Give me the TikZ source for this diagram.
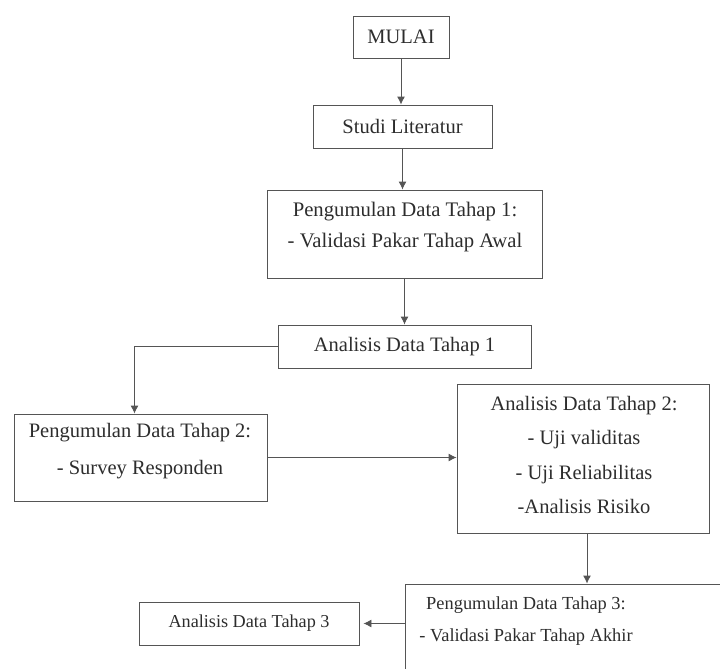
\documentclass[tikz,border=0pt]{standalone}
\usepackage{fontspec}
\setmainfont{Liberation Serif}
\usetikzlibrary{arrows.meta}
\definecolor{linegray}{RGB}{85,85,85}
\definecolor{textgray}{RGB}{45,45,45}
\tikzstyle{box}=[rectangle, draw=linegray, line width=0.9pt, inner sep=0pt, text=textgray, font=\fontsize{20.5}{24}\selectfont]
\tikzstyle{lines}=[text=textgray, align=center, inner sep=0pt]
\tikzstyle{flow}=[-{Latex[length=8pt,width=8pt]}, draw=linegray, line width=0.9pt]

\begin{document}
\begin{tikzpicture}[x=1pt,y=-1pt]
  \clip (0,0) rectangle (720,669);
  \draw (401,37) node[box,minimum width=96pt,minimum height=42pt] (mulai) {MULAI};
  \draw (402.5,126.5) node[box,minimum width=179pt,minimum height=43pt] (studi) {Studi Literatur};

  \draw (404.5,234) node[box,minimum width=275pt,minimum height=88pt] (p1) {};
  \draw (405,227.5) node[lines,font=\fontsize{20.7}{31}\selectfont] (p1text) {Pengumulan Data Tahap 1:\\- Validasi Pakar Tahap Awal};

  \draw (404.5,346.5) node[box,minimum width=253pt,minimum height=43pt] (a1) {Analisis Data Tahap 1};

  \draw (140.5,457.5) node[box,minimum width=253pt,minimum height=87pt] (p2) {};
  \draw (140,451.5) node[lines,font=\fontsize{20.5}{37}\selectfont] (p2text) {Pengumulan Data Tahap 2:\\- Survey Responden};

  \draw (583,458.5) node[box,minimum width=252pt,minimum height=149pt] (a2) {};
  \draw (584,455) node[lines,font=\fontsize{20.5}{34.5}\selectfont] (a2text) {Analisis Data Tahap 2:\\- Uji validitas\\- Uji Reliabilitas\\-Analisis Risiko};

  \draw (572.5,637) node[box,minimum width=335pt,minimum height=106pt] (p3) {};
  \draw (526,621) node[lines,font=\fontsize{18.4}{32}\selectfont] (p3text) {Pengumulan Data Tahap 3:\\- Validasi Pakar Tahap Akhir};

  \draw (249,623.5) node[box,minimum width=220pt,minimum height=43pt,font=\fontsize{18.2}{22}\selectfont] (a3) {Analisis Data Tahap 3};

  %% arrows
  \draw[flow] (mulai.south) -- (mulai.south |- studi.north);
  \draw[flow] (studi.south) -- (studi.south |- p1.north);
  \draw[flow] (p1.south) -- (p1.south |- a1.north);
  \draw[flow] (a1.west) -| ([xshift=-6pt]p2.north);
  \draw[flow] (p2.east) -- (p2.east -| a2.west);
  \draw[flow] ([xshift=4pt]a2.south) -- ([xshift=4pt]a2.south |- p3.north);
  \draw[flow, shorten >=4pt] (a3.east -| p3.west) -- (a3.east);
\end{tikzpicture}
\end{document}
